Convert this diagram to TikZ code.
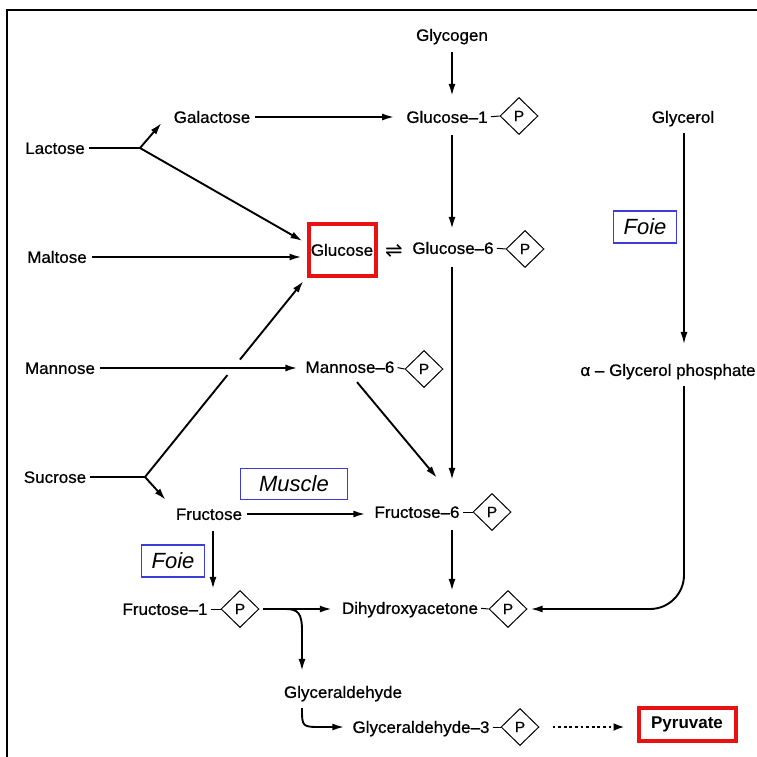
\documentclass[tikz,border=0pt]{standalone}
\usepackage{fontspec}
\setmainfont{Liberation Sans}[FakeStretch=1.03,FakeBold=0.7]
\newfontfamily\tagfont{Liberation Sans}
\newfontfamily\symfont{DejaVu Sans}
\usetikzlibrary{arrows.meta,shapes.geometric,calc}
\definecolor{organblue}{RGB}{60,60,215}
\definecolor{keyred}{RGB}{232,18,18}

\begin{document}
\begin{tikzpicture}[x=1pt,y=-1pt,
  lbl/.style={inner sep=0pt, text height=11.8pt, text depth=0pt,
              font=\fontsize{16.5}{19}\selectfont},
  phos/.style={draw, shape=diamond, minimum width=38pt, minimum height=37pt,
               inner sep=0pt, line width=1pt, font=\fontsize{15}{17}\selectfont},
  flow/.style={line width=1.9pt, -{Latex[length=12pt,width=7pt]}},
  plain/.style={line width=1.9pt},
  tie/.style={line width=1pt, shorten <=3pt},
  organ/.style={draw=organblue, line width=1.2pt, inner sep=0pt,
                font=\tagfont\itshape\fontsize{22}{26}\selectfont},
  keybox/.style={draw=keyred, line width=4pt, inner sep=0pt}
]
\useasboundingbox (0,0) rectangle (757,757);

% page frame (top and left edges only)
\draw[line width=2pt] (757,10) -- (7,10) -- (7,757);

% ---- compounds ----
\node[lbl] (glycogen) at (452,35) {Glycogen};
\node[lbl] (galactose) at (212,117) {Galactose};
\node[lbl] (g1) at (447,117) {Glucose–1};
\node[phos] (p1) at (519,116) {P};
\node[lbl] (glycerol) at (683,117) {Glycerol};
\node[lbl] (lactose) at (55,148) {Lactose};
\node[keybox, minimum width=67pt, minimum height=52pt,
      text height=11.8pt, font=\fontsize{16.5}{19}\selectfont] (glucose) at (342,250) {Glucose};
\node[lbl] (maltose) at (57,257) {Maltose};
\node[inner sep=0pt, font=\symfont\fontsize{21}{22}\selectfont] (eq) at (394,251) {⇌};
\node[lbl] (g6) at (453,248) {Glucose–6};
\node[phos] (p6) at (525,249) {P};
\node[organ, minimum width=63pt, minimum height=32pt] (foieA) at (645,227) {Foie};
\node[lbl] (mannose) at (60,368) {Mannose};
\node[lbl] (m6) at (350,367) {Mannose–6};
\node[phos] (pm6) at (424,369) {P};
\node[lbl] (gp) at (668,370) {α – Glycerol phosphate};
\node[lbl] (sucrose) at (55,477) {Sucrose};
\node[organ, minimum width=107pt, minimum height=31pt] (muscle) at (294,484) {Muscle};
\node[lbl] (fructose) at (209,514) {Fructose};
\node[lbl] (f6) at (417,512) {Fructose–6};
\node[phos] (pf6) at (492,512) {P};
\node[organ, minimum width=63pt, minimum height=32pt] (foieB) at (173,561) {Foie};
\node[lbl] (f1) at (165,609) {Fructose–1};
\node[phos] (pf1) at (240,609) {P};
\node[lbl] (dha) at (410,608) {Dihydroxyacetone};
\node[phos] (pdh) at (508,609) {P};
\node[lbl] (gald) at (343,692) {Glyceraldehyde};
\node[lbl] (g3) at (421,727) {Glyceraldehyde–3};
\node[phos] (pg3) at (520,727) {P};
\node[keybox, minimum width=97pt, minimum height=33pt, text height=12pt,
      font=\tagfont\bfseries\fontsize{17}{19}\selectfont] (pyr) at (687,724) {Pyruvate};

% ---- helper points ----
\coordinate (lb) at (140,148);
\coordinate (sb) at (145,477);
\coordinate (col) at (452,0);
\coordinate (gcol) at (684,0);
\coordinate (fcol) at (213,0);
\coordinate (bx) at (302,0);
\coordinate (gin) at ($(glucose.south west)+(-3,3)$);

% ---- phosphate links ----
\draw[tie] (g1.east) -- (p1.west);
\draw[tie] (g6.east) -- (p6.west);
\draw[tie] (m6.east) -- (pm6.west);
\draw[tie] (f6.east) -- (pf6.west);
\draw[tie] (f1.east) -- (pf1.west);
\draw[tie] (dha.east) -- (pdh.west);
\draw[tie] (g3.east) -- (pg3.west);

% ---- main column ----
\draw[flow, shorten <=11pt, shorten >=15pt] (glycogen.south -| col) -- (g1.north -| col);
\draw[flow, shorten <=12pt, shorten >=13pt] (g1.south -| col) -- (g6.north -| col);
\draw[flow, shorten <=13pt, shorten >=26pt] (g6.south -| col) -- (f6.north -| col);
\draw[flow, shorten <=12pt, shorten >=11pt] (f6.south -| col) -- (dha.north -| col);

% ---- sugars entering ----
\draw[flow, shorten <=5pt, shorten >=12pt] (galactose.east) -- (galactose.east -| g1.west);
\draw[plain, shorten <=4pt] (lactose.east) -- (lb);
\draw[flow] (lb) -- ($(galactose.west)+(-12,6)$);
\draw[flow] (lb) -- ($(glucose.west)+(-4,-9)$);
\draw[flow, shorten <=5pt, shorten >=5pt] (maltose.east) -- (maltose.east -| glucose.west);

\draw[plain, shorten <=4pt] (sucrose.east) -- (sb);
\draw[flow] (sb) -- (gin);
\fill[white] (intersection of sb--gin and mannose.east--m6.west) circle (10pt);
\draw[flow, shorten <=5pt, shorten >=8pt] (mannose.east) -- (mannose.east -| m6.west);
\draw[flow] (sb) -- ($(fructose.north west)+(-10,-8)$);

\draw[flow] ($(m6.south)+(7,9)$) -- ($(f6.north)+(20,-28)$);
\draw[flow, shorten <=5pt, shorten >=9pt] (fructose.east) -- (fructose.east -| f6.west);
\draw[flow, shorten <=11pt, shorten >=14pt] (fructose.south -| fcol) -- (f1.north -| fcol);

% ---- glycerol branch ----
\draw[flow, line width=1.4pt, shorten <=10pt, shorten >=20pt] (glycerol.south -| gcol) -- (gp.north -| gcol);
\draw[flow, rounded corners=34pt, shorten >=3pt]
  ($(gp.south -| gcol)+(0,10)$) -- (gcol |- pdh.east) -- (pdh.east);

% ---- triose stage ----
\draw[flow, shorten <=3pt, shorten >=10pt] (pf1.east) -- (pf1.east -| dha.west);
\draw[flow, shorten >=15pt]
  ($(pf1.east)+(26,0)$) .. controls ($(bx |- pf1.east)+(-4,0)$) and ($(bx |- pf1.east)+(0,4)$)
  .. ($(bx |- pf1.east)+(0,22)$) -- (bx |- gald.north);
\draw[flow, shorten >=8pt]
  ($(bx |- gald.south)+(0,10)$) .. controls (bx |- g3.west) .. ($(bx |- g3.west)+(20,0)$) -- (g3.west);
\draw[line width=2.8pt, dash pattern=on 2.8pt off 2.8pt,
      -{Latex[length=11pt,width=8pt]}, shorten <=13pt, shorten >=12pt]
  (pg3.east) -- (pg3.east -| pyr.west);
\end{tikzpicture}
\end{document}
